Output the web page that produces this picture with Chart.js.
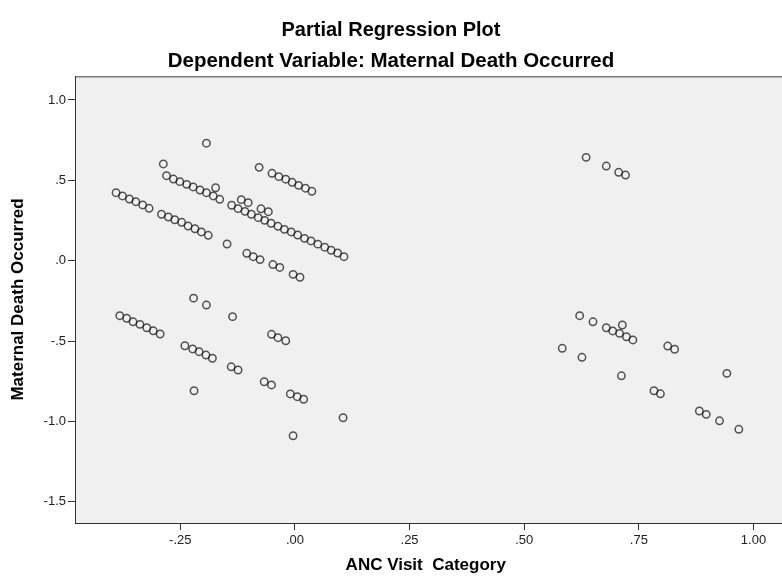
<!DOCTYPE html>
<html>
<head>
<meta charset="utf-8">
<script src="https://cdn.jsdelivr.net/npm/chart.js@4.4.1/dist/chart.umd.min.js"></script>
<style>
  html, body { margin: 0; padding: 0; background: #ffffff; }
  #wrap { width: 782px; height: 581px; }
</style>
</head>
<body>
<div id="wrap"><canvas id="myChart" width="782" height="581"></canvas></div>
<script>
// residuals: x = ANC visit category, y = maternal death occurred
var ancVisit = [
  -0.193, -0.287,
  -0.280, -0.265, -0.251, -0.236, -0.222, -0.207, -0.193, -0.178, -0.164,
  -0.173,
  -0.390, -0.376, -0.361, -0.347, -0.332, -0.318,
  -0.291, -0.276, -0.262, -0.247, -0.233, -0.218, -0.204, -0.189,
  -0.148,
  -0.105, -0.091, -0.076,
  -0.078,
  -0.050, -0.035, -0.020, -0.006, 0.008, 0.023, 0.037,
  -0.138, -0.124, -0.109, -0.095, -0.080, -0.066, -0.052, -0.037, -0.023,
  -0.008, 0.006, 0.021, 0.035, 0.050, 0.065, 0.079, 0.093, 0.107,
  -0.117, -0.102, -0.074, -0.058,
  -0.048, -0.033, -0.004, 0.011,
  -0.221, -0.193, -0.136,
  -0.382, -0.367, -0.353, -0.338, -0.323, -0.309, -0.294,
  -0.240, -0.223, -0.209, -0.194, -0.180,
  -0.139, -0.124,
  -0.220,
  -0.051, -0.037, -0.020,
  -0.067, -0.051,
  -0.010, 0.005, 0.019,
  0.105,
  -0.004,
  0.635, 0.679, 0.706, 0.721,
  0.621, 0.650,
  0.679, 0.693, 0.708, 0.723, 0.737,
  0.714,
  0.583,
  0.626,
  0.813, 0.828,
  0.712,
  0.942,
  0.783, 0.797,
  0.882, 0.897,
  0.926,
  0.968
];

var maternalDeath = [
  0.731, 0.602,
  0.529, 0.508, 0.492, 0.475, 0.459, 0.440, 0.423, 0.403, 0.382,
  0.454,
  0.423, 0.403, 0.384, 0.367, 0.347, 0.326,
  0.289, 0.272, 0.255, 0.239, 0.216, 0.199, 0.179, 0.158,
  0.104,
  0.046, 0.025, 0.007,
  0.581,
  0.544, 0.523, 0.507, 0.488, 0.469, 0.451, 0.432,
  0.345, 0.324, 0.307, 0.289, 0.268, 0.251, 0.233, 0.214, 0.195,
  0.179, 0.160, 0.139, 0.123, 0.103, 0.084, 0.065, 0.048, 0.025,
  0.380, 0.361, 0.323, 0.305,
  -0.024, -0.042, -0.085, -0.103,
  -0.233, -0.276, -0.348,
  -0.342, -0.358, -0.380, -0.396, -0.417, -0.436, -0.456,
  -0.529, -0.549, -0.566, -0.587, -0.607,
  -0.660, -0.680,
  -0.809,
  -0.458, -0.479, -0.498,
  -0.753, -0.773,
  -0.829, -0.846, -0.862,
  -0.977,
  -1.089,
  0.643, 0.589, 0.550, 0.533,
  -0.342, -0.380,
  -0.417, -0.437, -0.452, -0.473, -0.493,
  -0.400,
  -0.545,
  -0.601,
  -0.531, -0.551,
  -0.716,
  -0.701,
  -0.809, -0.828,
  -0.935, -0.956,
  -0.996,
  -1.049
];

var xTicks = [-0.25, 0, 0.25, 0.5, 0.75, 1.0];
var xTickLabels = ["-.25", ".00", ".25", ".50", ".75", "1.00"];
var yTicks = [-1.5, -1.0, -0.5, 0, 0.5, 1.0];
var yTickLabels = ["-1.5", "-1.0", "-.5", ".0", ".5", "1.0"];

var points = ancVisit.map(function (x, i) {
  return { x: x, y: maternalDeath[i] };
});

var FONT = "Arial, 'Liberation Sans', sans-serif";

// grey plot panel running to the right edge of the canvas, thin frame on top
var plotBackground = {
  id: "plotBackground",
  beforeDraw: function (chart) {
    var a = chart.chartArea;
    var ctx = chart.ctx;
    var right = chart.width;
    ctx.save();
    ctx.fillStyle = "#f0f0f0";
    ctx.fillRect(a.left, a.top, right - a.left, a.bottom - a.top);
    ctx.strokeStyle = "#7a7a7a";
    ctx.lineWidth = 1.5;
    ctx.beginPath();
    ctx.moveTo(a.left, a.top + 0.75);
    ctx.lineTo(right, a.top + 0.75);
    ctx.stroke();
    ctx.restore();
  },
  afterDraw: function (chart) {
    // carry the x axis line on to the edge as well
    var a = chart.chartArea;
    var ctx = chart.ctx;
    ctx.save();
    ctx.strokeStyle = "#333";
    ctx.lineWidth = 1;
    ctx.beginPath();
    ctx.moveTo(a.right - 1, Math.round(a.bottom) + 0.5);
    ctx.lineTo(chart.width, Math.round(a.bottom) + 0.5);
    ctx.stroke();
    ctx.restore();
  }
};

var ctx = document.getElementById("myChart");
var myChart = new Chart(ctx, {
  type: "scatter",
  data: {
    datasets: [
      {
        data: points,
        pointRadius: 3.7,
        pointBorderWidth: 1.5,
        pointBackgroundColor: "rgba(0,0,0,0)",
        pointBorderColor: "rgba(20,20,20,0.72)"
      }
    ]
  },
  options: {
    responsive: false,
    animation: false,
    devicePixelRatio: 1,
    events: [],
    layout: { padding: 0 },
    plugins: {
      legend: { display: false },
      tooltip: { enabled: false },
      title: {
        display: true,
        text: "Partial Regression Plot",
        color: "#000",
        font: { family: FONT, size: 20, weight: "bold", lineHeight: 1.2 },
        padding: { top: 18, bottom: 0 }
      },
      subtitle: {
        display: true,
        text: "Dependent Variable: Maternal Death Occurred",
        color: "#000",
        font: { family: FONT, size: 20.5, weight: "bold", lineHeight: 1.2 },
        padding: { top: 6.7, bottom: 2.7 }
      }
    },
    scales: {
      x: {
        type: "linear",
        min: -0.4796,
        max: 1.0502,
        afterBuildTicks: function (scale) {
          scale.ticks = xTicks.map(function (v) { return { value: v }; });
        },
        afterFit: function (scale) { scale.height = 58; },
        ticks: {
          color: "#222",
          padding: 3,
          autoSkip: false,
          maxRotation: 0,
          font: { family: FONT, size: 13 },
          callback: function (value) { return xTickLabels[xTicks.indexOf(value)]; }
        },
        grid: { drawOnChartArea: false, drawTicks: true, tickLength: 7, color: "#333" },
        border: { display: true, color: "#333", width: 1 },
        title: {
          display: true,
          text: "ANC Visit  Category",
          color: "#000",
          font: { family: FONT, size: 17, weight: "bold", lineHeight: 1.2 },
          padding: { top: 0, bottom: 5 }
        }
      },
      y: {
        type: "linear",
        min: -1.632,
        max: 1.1493,
        afterBuildTicks: function (scale) {
          scale.ticks = yTicks.map(function (v) { return { value: v }; });
        },
        afterFit: function (scale) { scale.width = 75; },
        ticks: {
          color: "#222",
          padding: 2,
          autoSkip: false,
          font: { family: FONT, size: 13 },
          callback: function (value) { return yTickLabels[yTicks.indexOf(value)]; }
        },
        grid: { drawOnChartArea: false, drawTicks: true, tickLength: 7, color: "#333" },
        border: { display: true, color: "#333", width: 1 },
        title: {
          display: true,
          text: "Maternal Death Occurred",
          color: "#000",
          font: { family: FONT, size: 17, weight: "bold", lineHeight: 1.2 },
          padding: { top: 8, bottom: 0 }
        }
      }
    }
  },
  plugins: [plotBackground]
});
</script>
</body>
</html>
